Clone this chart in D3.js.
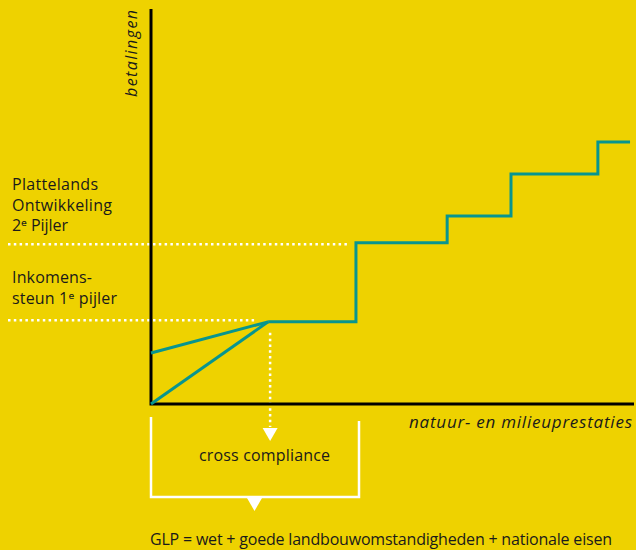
<!DOCTYPE html>
<html><head><meta charset="utf-8">
<script src="https://cdn.jsdelivr.net/npm/d3@7"></script>
<style>
html,body{margin:0;padding:0;background:#eed200;}
svg{display:block;}
text{font-family:"Open Sans","Noto Sans",sans-serif;fill:#1a1a1a;}
</style></head>
<body>
<script>
// Data (performance units 0-100 on both axes)
const stepX = [0, 24.4, 42.7, 61.7, 75.0, 93.1, 99.8];
const stepY = [20.8, 20.8, 40.8, 47.6, 58.2, 66.3, 66.3];
const rampStartY = [0, 12.9];       // two lines starting at origin and at baseline support
const pillarLevels = [20.8, 40.8];  // 1e pijler, 2e pijler
const pillarLabels = [["Inkomens-", "steun  1ᵉ pijler"], ["Plattelands", "Ontwikkeling", "2ᵉ Pijler"]];
const pillarWidths = [[80, 105], [86, 100, 56]];
const axisLabels = {x: "natuur- en milieuprestaties", y: "betalingen"};
const boxLabel = "cross compliance";
const footnote = "GLP = wet + goede landbouwomstandigheden + nationale eisen";

const W = 636, H = 550;
const teal = "#08958f";
const svg = d3.select("body").append("svg").attr("width", W).attr("height", H);
svg.append("rect").attr("width", W).attr("height", H).attr("fill", "#eed200");

const x = d3.scaleLinear().domain([0, 100]).range([151, 631]);
const y = d3.scaleLinear().domain([0, 100]).range([404, 9]);

// dotted guide lines
const dot = {stroke: "#fff", "stroke-width": 2.5, "stroke-dasharray": "2.5 3.3"};
function dotted(x1, y1, x2, y2) {
  const l = svg.append("line").attr("x1", x1).attr("y1", y1).attr("x2", x2).attr("y2", y2);
  Object.entries(dot).forEach(([k, v]) => l.attr(k, v));
}
dotted(8, y(pillarLevels[1]) + 1.5, x(stepX[2]) - 6, y(pillarLevels[1]) + 1.5);
dotted(8, y(pillarLevels[0]) - 1.5, x(stepX[1]) - 14, y(pillarLevels[0]) - 1.5);
dotted(x(stepX[1]) + 2, y(pillarLevels[0]) + 11, x(stepX[1]) + 2, 427);

// arrow heads
svg.append("path").attr("d", d3.line()([[x(stepX[1]) - 5.5, 428], [x(stepX[1]) + 9.5, 428], [x(stepX[1]) + 2, 441]])).attr("fill", "#fff");

// bracket
svg.append("path").attr("d", d3.line()([[151, 417], [151, 497], [359, 497], [359, 421]]))
  .attr("fill", "none").attr("stroke", "#fff").attr("stroke-width", 2.5);
svg.append("path").attr("d", d3.line()([[247, 498], [262, 498], [254.5, 511]])).attr("fill", "#fff");

// axes
svg.append("path").attr("d", d3.line()([[x(0), 9], [x(0), y(0)], [634, y(0)]]))
  .attr("fill", "none").attr("stroke", "#000").attr("stroke-width", 3);

// teal lines
const lineGen = d3.line().x(d => x(d[0])).y(d => y(d[1]));
rampStartY.forEach(v => {
  svg.append("path").attr("d", lineGen([[0, v], [stepX[1], stepY[1]]]))
    .attr("fill", "none").attr("stroke", teal).attr("stroke-width", 3);
});
const stepPts = stepX.slice(1).map((v, i) => [v, stepY[i + 1]]);
svg.append("path").attr("d", d3.line().curve(d3.curveStepAfter).x(d => x(d[0])).y(d => y(d[1]))(stepPts))
  .attr("fill", "none").attr("stroke", teal).attr("stroke-width", 3);

// labels
const fs = 16;
const lab1 = svg.append("text").attr("font-size", fs);
pillarLabels[1].forEach((t, i) => lab1.append("tspan").attr("x", 12).attr("y", 190 + i * 20.5)
  .attr("textLength", pillarWidths[1][i]).attr("lengthAdjust", "spacing").text(t));
const lab0 = svg.append("text").attr("font-size", fs);
pillarLabels[0].forEach((t, i) => lab0.append("tspan").attr("x", 12).attr("y", 283 + i * 20.5)
  .attr("textLength", pillarWidths[0][i]).attr("lengthAdjust", "spacing").text(t));

svg.append("text").attr("transform", "translate(137,97) rotate(-90)")
  .attr("font-size", 16).attr("font-style", "italic")
  .attr("textLength", 87).attr("lengthAdjust", "spacing").text(axisLabels.y);
svg.append("text").attr("x", 409).attr("y", 428)
  .attr("font-size", 17).attr("font-style", "italic")
  .attr("textLength", 223).attr("lengthAdjust", "spacing").text(axisLabels.x);
svg.append("text").attr("x", 199).attr("y", 461)
  .attr("font-size", fs).attr("textLength", 131).attr("lengthAdjust", "spacing").text(boxLabel);
svg.append("text").attr("x", 150).attr("y", 545).attr("font-size", fs)
  .attr("textLength", 462).attr("lengthAdjust", "spacing").text(footnote);
</script>
</body></html>
